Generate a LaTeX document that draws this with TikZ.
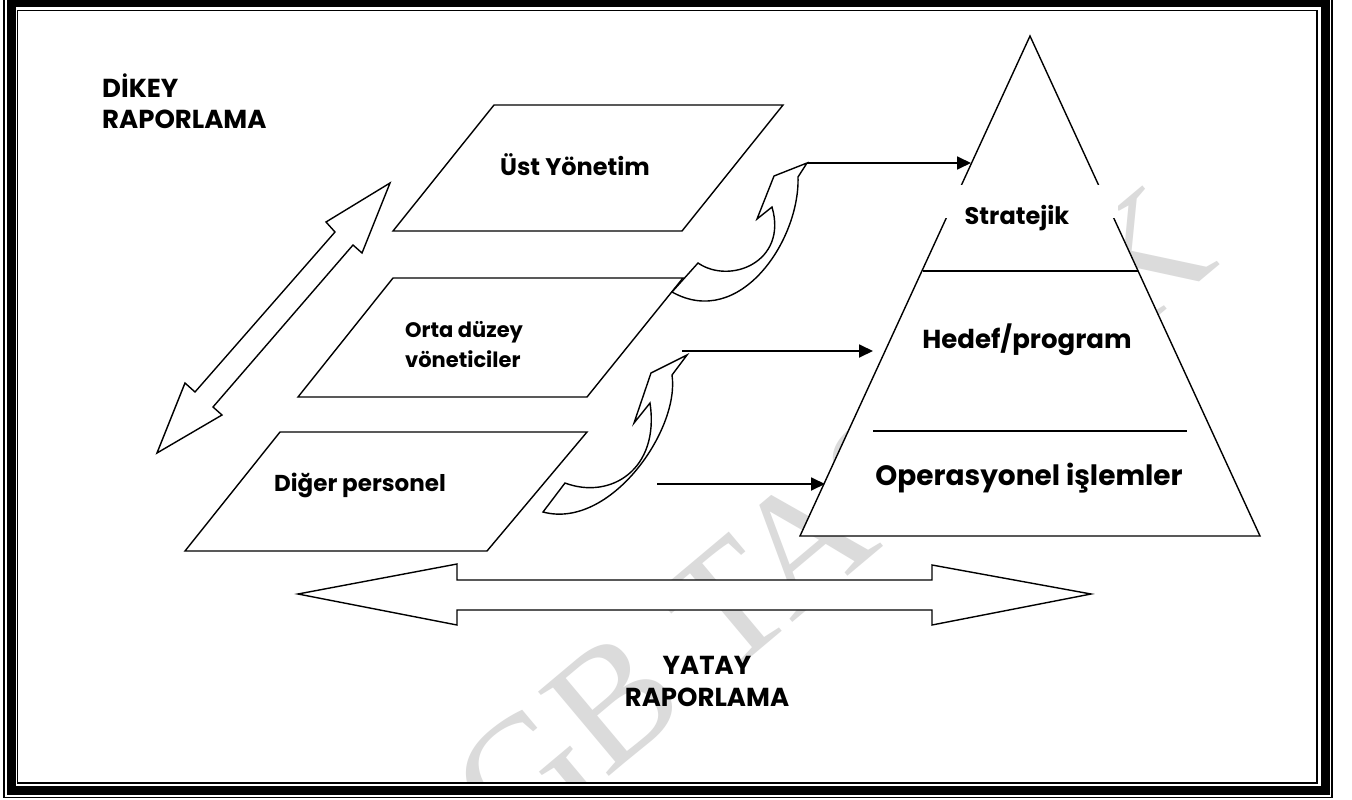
\documentclass[tikz,border=0pt]{standalone}
\usepackage{fontspec}
\setmainfont{Poppins}
\newfontfamily\wmfont{Liberation Serif}
\usetikzlibrary{arrows.meta}
\begin{document}
\begin{tikzpicture}[x=1pt,y=-1pt,
  shp/.style={draw=black,fill=white,line width=1.4pt,line join=miter},
  lbl/.style={font=\bfseries\fontsize{#1}{#1}\selectfont,inner sep=0pt},
  sarrow/.style={line width=1.8pt,-{Triangle[length=14pt,width=13pt]}},
]
\useasboundingbox (0,0) rectangle (1352,800);
\fill[white] (0,0) rectangle (1352,800);
% watermark
\begin{scope}
\clip (17.5,10.5) rectangle (1317,783);
\node[font=\wmfont\fontsize{168}{168}\selectfont, text=black!14, rotate=40,
  anchor=base west, inner sep=0pt] (wm) at (441,918) {SGB TASLAK};
\end{scope}
% frame
\draw[line width=1.2pt] (4,-5) rectangle (1332,797.5);
\draw[line width=9pt] (11,3) rectangle (1325,790);
\draw[line width=1.3pt] (17.5,10.5) rectangle (1317,783);

% parallelograms
\draw[shp] (494,105) -- (783,105) -- (682,231) -- (393,231) -- cycle;
\draw[shp] (393,278) -- (683,278) -- (587,397) -- (298,397) -- cycle;
\draw[shp] (280,432) -- (587,432) -- (487,551) -- (185,551) -- cycle;

% diagonal double block arrow
\draw[shp] (390,183) -- (362,253) -- (353,245) -- (213,407) -- (222,415) -- (157,453)
  -- (185,383) -- (195,392) -- (335,232) -- (326,222) -- cycle;

% horizontal double block arrow
\draw[shp] (298,594) -- (457,564) -- (457,580) -- (932,580) -- (932,565) -- (1091,594)
  -- (932,625) -- (932,610) -- (457,610) -- (457,625) -- cycle;

% curved arrows
\draw[shp] (698,263) .. controls (730,285) and (788,262) .. (772,207) -- (757,219) -- (774,176)
  -- (807,163) -- (798,177) .. controls (800,240) and (740,330) .. (672,292) -- cycle;
\draw[shp] (565,483) .. controls (610,500) and (660,470) .. (650,403) -- (634,423) -- (651,373)
  -- (687,355) -- (672,375) .. controls (680,430) and (610,530) .. (543,512) -- cycle;

% pyramid
\draw[shp] (1030,36) -- (1260,536) -- (800,536) -- cycle;
\draw[line width=1.3pt] (922.5,271) -- (1138,271);
\draw[line width=1.3pt] (873,431) -- (1187,431);
\fill[white] (940,185) rectangle (1118,218);

% small arrows
\coordinate (c1) at (807,163); \coordinate (t1) at (971,163);
\coordinate (c2) at (682,351); \coordinate (t2) at (873,351);
\coordinate (c3) at (657,484); \coordinate (t3) at (825,484);
\draw[sarrow] (c1) -- (t1);
\draw[sarrow] (c2) -- (t2);
\draw[sarrow] (c3) -- (t3);

% labels
\node[lbl=26, anchor=base west] (dikey) at (102,97) {DİKEY};
\node[lbl=26, anchor=base west] (dikey2) at (102,128) {RAPORLAMA};
\node[lbl=24, anchor=base] (ust) at (575,175) {Üst Yönetim};
\node[lbl=21, anchor=base west] (orta1) at (405,337) {Orta düzey};
\node[lbl=21, anchor=base west] (orta2) at (405,367) {vöneticiler};
\node[lbl=23, anchor=base] (diger) at (360,491) {Diğer personel};
\node[lbl=24, anchor=base] (strat) at (1017,224) {Stratejik};
\node[lbl=26, anchor=base] (hedef) at (1027,348) {Hedef/program};
\node[lbl=28, anchor=base] (oper) at (1029,485) {Operasyonel işlemler};
\node[lbl=26, anchor=base] (yatay1) at (707,674) {YATAY};
\node[lbl=26, anchor=base] (yatay2) at (707,706) {RAPORLAMA};
\end{tikzpicture}
\end{document}
